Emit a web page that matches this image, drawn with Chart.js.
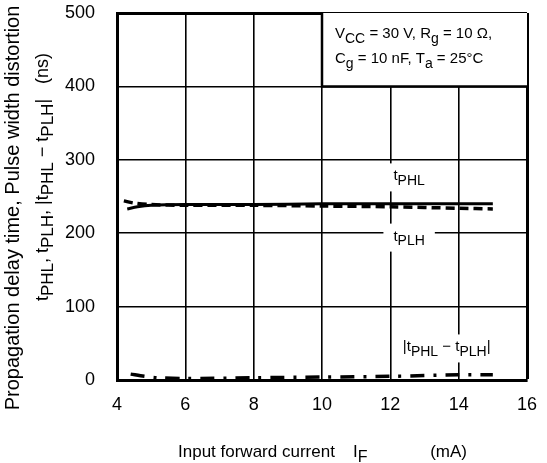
<!DOCTYPE html>
<html>
<head>
<meta charset="utf-8">
<script src="https://cdn.jsdelivr.net/npm/chart.js@4/dist/chart.umd.min.js"></script>
<style>
  html, body { margin: 0; padding: 0; background: #fff; }
  #wrap { width: 547px; height: 463px; }
</style>
</head>
<body>
<div id="wrap"><canvas id="myChart" width="547" height="463"></canvas></div>
<script>
// data
const currentPHL = [4.3, 4.6, 5, 6, 8, 10, 12, 14, 15];
const tPHL = [233, 236, 238, 239, 239, 240, 240, 240, 240];

const currentPLH = [4.2, 4.5, 5, 6, 8, 10, 12, 14, 15];
const tPLH = [244, 241, 239, 238, 238, 237, 236, 234, 233];

const currentPWD = [4.4, 4.8, 5.2, 6, 8, 10, 12, 14, 15];
const pwd = [8, 5, 3, 2, 3, 4, 5, 7, 7];

const xTicks = [4, 6, 8, 10, 12, 14, 16];
const yTicks = [0, 100, 200, 300, 400, 500];

const FONT = "'Liberation Sans', Arial, sans-serif";

function pts(xs, ys) {
    return xs.map((x, i) => ({ x: x, y: ys[i] }));
}

// draw text made of [text, isSub] parts, returns width
function subText(ctx, parts, x, y, size, align, measureOnly) {
    let w = 0;
    parts.forEach(p => {
        ctx.font = (p[1] ? size - 1 : size) + 'px ' + FONT;
        w += ctx.measureText(p[0]).width;
    });
    if (measureOnly) return w;
    let cx = align === 'center' ? x - w / 2 : (align === 'right' ? x - w : x);
    ctx.textAlign = 'left';
    ctx.textBaseline = 'alphabetic';
    parts.forEach(p => {
        ctx.font = (p[1] ? size - 1 : size) + 'px ' + FONT;
        ctx.fillText(p[0], cx, y + (p[1] ? size * 0.3 : 0));
        cx += ctx.measureText(p[0]).width;
    });
    return w;
}

const decor = {
    id: 'decor',
    beforeDatasetsDraw(chart) {
        const ctx = chart.ctx;
        const xs = chart.scales.x, ys = chart.scales.y;
        const area = chart.chartArea;
        ctx.save();

        // condition box in the upper right
        const bx = xs.getPixelForValue(10);
        const by = ys.getPixelForValue(400);
        ctx.fillStyle = '#fff';
        ctx.fillRect(bx, area.top, area.right - bx, by - area.top);
        ctx.strokeStyle = '#000';
        ctx.lineWidth = 2.5;
        ctx.beginPath();
        ctx.moveTo(bx, area.top);
        ctx.lineTo(bx, by);
        ctx.lineTo(area.right, by);
        ctx.stroke();
        ctx.fillStyle = '#000';
        subText(ctx, [['V', 0], ['CC', 1], [' = 30 V, R', 0], ['g', 1], [' = 10 \u03A9,', 0]], bx + 13, area.top + 25, 15, 'left');
        subText(ctx, [['C', 0], ['g', 1], [' = 10 nF, T', 0], ['a', 1], [' = 25\u00B0C', 0]], bx + 13, area.top + 50, 15, 'left');

        // curve labels with white backing
        const labels = [
            { parts: [['t', 0], ['PHL', 1]], x: 12.55, y: 276 },
            { parts: [['t', 0], ['PLH', 1]], x: 12.55, y: 194 },
            { parts: [['|t', 0], ['PHL', 1], [' \u2212 t', 0], ['PLH', 1], ['|', 0]], x: 13.65, y: 43 }
        ];
        labels.forEach(l => {
            const px = xs.getPixelForValue(l.x);
            const py = ys.getPixelForValue(l.y);
            const w = subText(ctx, l.parts, 0, 0, 15, 'left', true);
            ctx.fillStyle = '#fff';
            ctx.fillRect(px - w / 2 - 10, py - 14, w + 20, 28);
            ctx.fillStyle = '#000';
            subText(ctx, l.parts, px, py + 3, 15, 'center');
        });

        // axis titles
        ctx.fillStyle = '#000';
        ctx.font = '17px ' + FONT;
        ctx.textBaseline = 'alphabetic';
        ctx.textAlign = 'left';
        ctx.fillText('Input forward current', 178, 457);
        subText(ctx, [['I', 0], ['F', 1]], 353, 457, 17, 'left');
        ctx.font = '17px ' + FONT;
        ctx.textAlign = 'right';
        ctx.fillText('(mA)', 467, 457);

        ctx.save();
        ctx.translate(19, 208);
        ctx.rotate(-Math.PI / 2);
        ctx.font = '20px ' + FONT;
        ctx.textAlign = 'center';
        ctx.textBaseline = 'alphabetic';
        ctx.fillText('Propagation delay time, Pulse width distortion', 0, 0);
        ctx.restore();

        ctx.save();
        ctx.translate(48, 177);
        ctx.rotate(-Math.PI / 2);
        subText(ctx, [['t', 0], ['PHL', 1], [', t', 0], ['PLH', 1], [', |t', 0], ['PHL', 1], [' \u2212 t', 0], ['PLH', 1], ['|   (ns)', 0]], 0, 0, 18, 'center');
        ctx.restore();

        ctx.restore();
    }
};

const ctx = document.getElementById('myChart').getContext('2d');
const myChart = new Chart(ctx, {
    type: 'scatter',
    data: {
        datasets: [{
            label: 'tPHL',
            data: pts(currentPHL, tPHL),
            showLine: true,
            borderColor: '#000',
            borderWidth: 3,
            pointRadius: 0,
            tension: 0.3
        }, {
            label: 'tPLH',
            data: pts(currentPLH, tPLH),
            showLine: true,
            borderColor: '#000',
            borderWidth: 3.5,
            borderDash: [9, 5],
            pointRadius: 0,
            tension: 0.3
        }, {
            label: '|tPHL - tPLH|',
            data: pts(currentPWD, pwd),
            showLine: true,
            borderColor: '#000',
            borderWidth: 3.5,
            borderDash: [14, 9, 3, 9],
            pointRadius: 0,
            tension: 0.3
        }]
    },
    options: {
        responsive: false,
        animation: false,
        layout: { padding: { top: 13, right: 20, left: 0, bottom: 0 } },
        plugins: {
            legend: { display: false },
            tooltip: { enabled: false }
        },
        scales: {
            x: {
                type: 'linear',
                min: 4,
                max: 16,
                afterBuildTicks: s => { s.ticks = xTicks.map(v => ({ value: v })); },
                afterFit: s => { s.height = 83; },
                ticks: {
                    color: '#000',
                    font: { family: FONT, size: 18 },
                    padding: 0,
                    maxRotation: 0
                },
                grid: {
                    color: '#000',
                    lineWidth: c => (c.tick && c.tick.value === 16 ? 3 : 1.6),
                    drawTicks: true,
                    tickLength: 14,
                    tickColor: 'rgba(0,0,0,0)'
                },
                border: { color: '#000', width: 3 }
            },
            y: {
                min: 0,
                max: 500,
                afterBuildTicks: s => { s.ticks = yTicks.map(v => ({ value: v })); },
                afterFit: s => { s.width = 117; },
                ticks: {
                    color: '#000',
                    font: { family: FONT, size: 18 },
                    padding: 0
                },
                grid: {
                    color: '#000',
                    lineWidth: c => (c.tick && c.tick.value === 500 ? 3 : 1.6),
                    drawTicks: true,
                    tickLength: 22,
                    tickColor: 'rgba(0,0,0,0)'
                },
                border: { color: '#000', width: 3 }
            }
        }
    },
    plugins: [decor]
});
</script>
</body>
</html>
